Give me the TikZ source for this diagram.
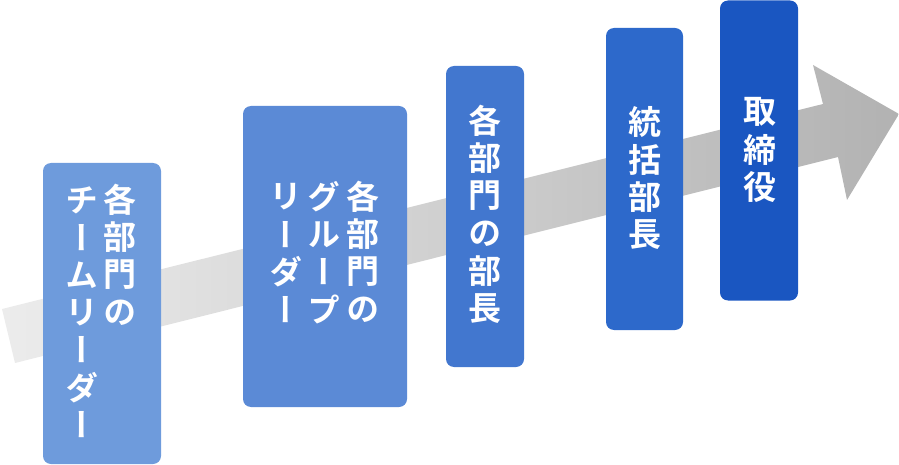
\documentclass[tikz,border=0pt]{standalone}
\usepackage{fontspec}
\newfontfamily\jpfont[RawFeature=+vert,BoldFont={Noto Sans CJK JP Bold}]{Noto Sans CJK JP}
\definecolor{cA}{HTML}{6E9BDC}
\definecolor{cB}{HTML}{5B8AD6}
\definecolor{cC}{HTML}{4277CF}
\definecolor{cD}{HTML}{2D69CB}
\definecolor{cE}{HTML}{1A56C1}
\definecolor{arrL}{HTML}{ECECEC}
\definecolor{arrR}{HTML}{B2B2B2}
\tikzset{
  box/.style={rectangle, rounded corners=8pt, draw=none, inner sep=0pt},
  jp/.style={font=\jpfont\bfseries\fontsize{33}{37}\selectfont, text=white, inner sep=0pt, anchor=center}
}
\newcommand\vcol[4]{\foreach \c [count=\i from 0] in {#4} {\node[jp] (#1-\i) at (#2, #3+37.5*\i) {\c};}}
\begin{document}
\begin{tikzpicture}[x=1pt,y=-1pt]
\useasboundingbox (0,0) rectangle (899,465);
% arrow
\shade[left color=arrL, right color=arrR] (2,309) -- (823,104) -- (813,65) -- (899,114) -- (847,200) -- (838,157) -- (15,363) -- cycle;
% boxes
\node[box, fill=cA, minimum width=118pt, minimum height=301pt] (b1) at (102,313.5) {};
\node[box, fill=cB, minimum width=164pt, minimum height=301pt] (b2) at (325,256.5) {};
\node[box, fill=cC, minimum width=78pt, minimum height=301pt] (b3) at (485,216.5) {};
\node[box, fill=cD, minimum width=77pt, minimum height=302pt] (b4) at (644.5,179) {};
\node[box, fill=cE, minimum width=78pt, minimum height=300pt] (b5) at (759,150.5) {};
% texts
\vcol{t1a}{120}{200}{各,部,門,の}
\vcol{t1b}{82}{200}{チ,ー,ム,リ,ー,ダ,ー}
\vcol{t2a}{363}{197}{各,部,門,の}
\vcol{t2b}{324}{197}{グ,ル,ー,プ}
\vcol{t2c}{286}{197}{リ,ー,ダ,ー}
\vcol{t3}{485}{121}{各,部,門,の,部,長}
\vcol{t4}{644.5}{122}{統,括,部,長}
\vcol{t5}{760}{112}{取,締,役}
\end{tikzpicture}
\end{document}
